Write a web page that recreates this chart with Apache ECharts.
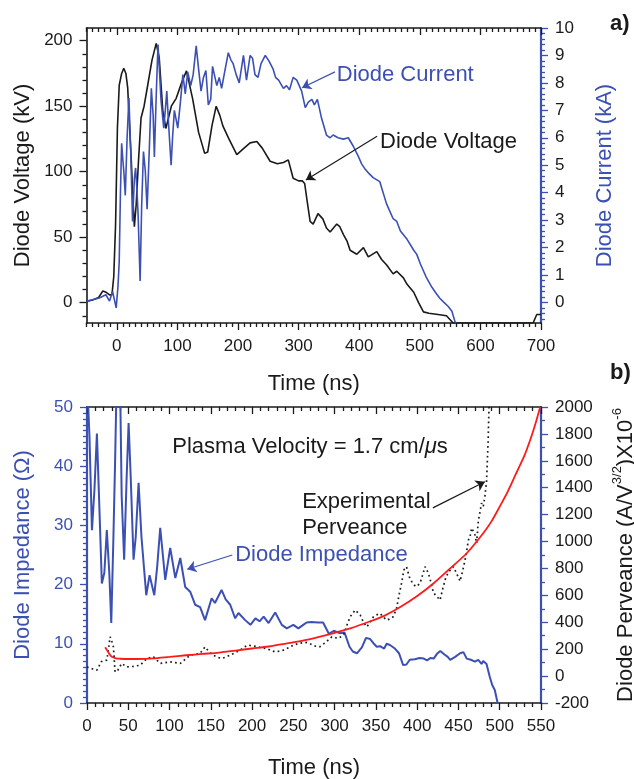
<!DOCTYPE html>
<html><head><meta charset="utf-8">
<script src="https://cdn.jsdelivr.net/npm/echarts@6/dist/echarts.min.js"></script>
<style>html,body{margin:0;padding:0;background:#fff}#c{width:634px;height:779px}</style>
</head><body><div id="c"></div>
<script>
// ---------- Panel a) : time (ns) vs diode voltage (kV) and current (kA)
const voltageA = [[-50,1],[-40,2],[-30,4],[-23,9],[-18,8],[-12,6],[-8,6],[-5,20],[-2,60],[1,133],[4,166],[8,175],[11.5,179],[15,175],[18,164],[21,135],[24,108],[26,85],[29,58],[32,75],[36,110],[40,141],[45,150],[51,166],[58,185],[65,198],[70,187],[76,146],[81,133],[90,150],[98,156],[107,168],[115,177],[125,156],[135,130],[145,114],[150,115],[157,135],[164,150],[170,143],[175,135],[185,125],[198,113],[210,118],[220,122],[231,123],[240,118],[253,108],[265,106],[275,107],[283,109],[291,95],[300,93],[306,93],[310,91],[314,78],[319,62],[324,60],[332,68],[340,64],[346,57],[352,54],[363,60],[368,58],[374,52],[380,47],[385,40],[396,37],[407,42],[415,35],[429,39],[437,33],[445,29],[456,22],[462,24],[473,19],[479,14],[490,8],[498,0],[506,-7],[515,-8],[530,-9],[544,-10],[555,-15.5],[600,-15.5],[650,-15.5],[687,-15.5],[693,-9],[700,-9]];
const currentA = [[-50,0.04],[-40,0.1],[-29,0.16],[-18,0.28],[-12,0.05],[-7,0.4],[-1,-0.2],[2,0.6],[4,1.5],[6,4.0],[8,5.8],[10,5.2],[11.5,4.8],[14,3.9],[17,6.0],[20,7.45],[23,5.5],[26,2.95],[29,4.5],[31,4.9],[33,4.2],[35,3.3],[38.5,0.78],[41,3.5],[44,5.5],[47,4.8],[50,3.4],[54,5.8],[57,7.8],[60,6.8],[62,5.3],[65,7.5],[68,9.4],[71,8.2],[73,7.35],[77.5,6.35],[80,7.0],[82.5,7.7],[86,6.3],[89.6,5.0],[92,6.0],[95,7.0],[100.6,6.35],[105,7.3],[109,8.3],[113,7.6],[117,8.4],[122,7.9],[126,8.3],[131,9.35],[135,8.5],[139,7.7],[143,8.2],[147,8.45],[151,7.2],[155,7.4],[158,8.6],[161,8.3],[165,7.9],[169,8.2],[173,7.8],[178,8.4],[184,9.1],[188,8.85],[192,8.7],[197,8.3],[202,8.0],[209,9.0],[214,8.1],[220,9.0],[224,8.9],[228,8.3],[233,8.2],[238,8.7],[245,9.0],[251,8.8],[258,8.5],[262,8.2],[267,8.1],[275,7.8],[280,7.9],[285,7.75],[291,8.2],[297,8.1],[305,7.7],[311,7.1],[316,7.3],[322,7.4],[326,7.2],[331,7.4],[338,6.7],[346,6.1],[352,6.0],[357,6.1],[365,6.0],[374,5.95],[382,6.0],[390,5.7],[399,5.3],[404,5.05],[410,4.85],[416,4.7],[423,4.55],[434,4.4],[445,3.6],[456,3.05],[462,2.95],[468,2.6],[479,2.3],[490,1.9],[495,1.75],[501,1.4],[511,0.9],[520,0.55],[528,0.3],[533,0.15],[539,0.02],[547,-0.15],[553,-0.32],[558,-0.7],[560,-0.75]];
const timeTicksA = [0,100,200,300,400,500,600,700];
const voltageTicksA = [0,50,100,150,200];
const currentTicksA = [0,1,2,3,4,5,6,7,8,9,10];

// ---------- Panel b) : time (ns) vs impedance (Ohm) and perveance
const impedanceB = [[0,55],[3,45],[6,29.2],[9,36],[12,45.5],[15,33],[18,20.2],[21,22],[24,29.2],[27,22],[29.4,13.5],[32,28],[34,40.5],[36,55],[40,55],[42,35],[45,24.2],[48,38],[50.4,47.3],[53,38],[56.4,24.2],[59,28],[62.5,37.2],[66,28],[71.8,18.2],[75.8,21.6],[81.5,18.2],[85,23],[88.7,29.6],[94.8,20.8],[100.8,26.2],[107,21.1],[113,24.5],[119,19.6],[125,18.8],[131,16.6],[137,16.2],[143,14.0],[151,17.7],[155,16.9],[163,19.1],[168,17.5],[173.5,16.6],[179.5,14.3],[183.5,15.2],[191.6,14.0],[198,13.2],[204,14.3],[209,13.8],[214,14.6],[220,13.5],[228,15.3],[236,13.2],[242,12.6],[250,13.2],[256,12.6],[262,13.2],[266,13.6],[272,13.7],[280,13.6],[286,13.6],[293,11.7],[299,12.2],[306,11.8],[312,11.9],[318,9.5],[322,8.7],[327,8.4],[333,9.4],[338,11.0],[343,10.8],[347,10.1],[351,9.5],[355,9.6],[360,9.2],[363,10.0],[367,9.8],[373,9.2],[378,8.4],[383,6.4],[387,6.5],[391,7.3],[397,7.4],[403,7.6],[408,7.5],[412,7.2],[416,7.6],[420,7.5],[424,8.3],[428,8.8],[433,8.2],[437,7.8],[440,7.3],[446,7.8],[452,8.4],[456,8.6],[460,7.5],[465,7.3],[470,7.0],[474,7.3],[478,6.6],[480,7.1],[482,6.8],[484,6.6],[486,6.8],[488,4.4],[491,3.0],[494,2.2],[497,0.3],[499,-1]];
const perveanceFitB = [[22,215],[24,195],[27,165],[30,143],[35,132],[40,129],[50,127],[60,127],[70,128],[80,131],[100,143],[120,155],[140,165],[160,175],[180,190],[200,205],[220,220],[240,240],[260,262],[280,290],[300,322],[320,357],[340,400],[360,448],[380,515],[400,595],[420,690],[440,801],[460,913],[480,1062],[490,1150],[500,1260],[510,1375],[520,1508],[530,1640],[537,1757],[543,1870],[549,2000]];
const perveanceExpB = [[0,68],[4,60],[8,50],[12,44],[15,80],[17,106],[20,115],[24,118],[26,200],[28,292],[30,260],[32,217],[34,31],[37,40],[42,94],[48,68],[56,72],[64.5,81],[72.6,131],[80.6,143],[88.7,94],[95,100],[100.8,106],[107,100],[113,94],[120,130],[125,156],[131,160],[137,168],[143,217],[148,180],[153,156],[158,140],[163,131],[168,140],[173.5,156],[180,175],[185.6,193],[190,215],[195.6,230],[205,220],[212,210],[218,205],[223,190],[228,180],[233,185],[238,193],[244,210],[250,230],[258,245],[266,250],[272,235],[277,222],[282,218],[289,250],[296.6,292],[304.6,280],[310.6,305],[315,380],[318.8,441],[325,491],[331,454],[335,400],[339,366],[343,400],[347,441],[351,455],[355,466],[359,440],[363,416],[367,425],[371,441],[375,503],[378,600],[381,690],[384,790],[387,813],[391,727],[395.5,680],[399,665],[403.5,690],[407,760],[409.6,813],[413.6,764],[417,690],[419.6,620],[424,590],[427.7,565],[431,650],[435,739],[439,780],[444,813],[448,760],[452,705],[455,780],[458,863],[460,930],[462,1010],[464,1036],[466,1100],[468,1111],[470,1050],[472,987],[474,1150],[476,1136],[478,1285],[480,1260],[482,1334],[484,1446],[485,1600],[486,1757],[487,2000],[488,2100]];
const timeTicksB = [0,50,100,150,200,250,300,350,400,450,500,550];
const impedanceTicksB = [0,10,20,30,40,50];
const perveanceTicksB = [-200,0,200,400,600,800,1000,1200,1400,1600,1800,2000];

// ---------- style helpers
const FONT = "'Liberation Sans', Arial, Helvetica, sans-serif";
const BLUE = '#3c50b4';
const BLACK = '#1a1a1a';
const TICK_FS = 17, TITLE_FS = 22;

function steps(a, b, step) { const r = []; const n = Math.round((b - a) / step); for (let i = 0; i <= n; i++) r.push(+(a + i * step).toFixed(4)); return r; }
function minors(a, b, step, majors) { return steps(a, b, step).filter(v => !majors.some(m => Math.abs(m - v) < 1e-6)); }

function axis(o) {
  const a = {
    type: 'value', gridIndex: o.gridIndex, position: o.position, min: o.min, max: o.max,
    splitLine: { show: false }, minorTick: { show: false },
    axisLine: { show: !!o.line, onZero: false, lineStyle: { color: o.color, width: o.lineWidth || 1.6 } },
    axisTick: { show: true, customValues: o.ticks, inside: !!o.inside, length: o.len, lineStyle: { color: o.color, width: 1.3 } },
    axisLabel: { show: !!o.labels, customValues: o.labels ? o.ticks : undefined, color: o.labelColor, fontSize: TICK_FS, fontFamily: FONT, margin: o.margin || 14,
                 formatter: function (v) { return String(v); } },
    nameMoveOverlap: false
  };
  if (o.name) {
    a.name = o.name; a.nameLocation = 'middle'; a.nameGap = o.nameGap;
    if (o.position === 'left' || o.position === 'right') a.nameRotate = 90;
    a.nameTextStyle = { color: o.nameColor, fontSize: TITLE_FS, fontFamily: FONT };
    if (o.nameRich) a.nameTextStyle.rich = o.nameRich;
  }
  return a;
}

const xMinA = -50, xMaxA = 700, vMin = -15.5, vMax = 209.7, iMin = -0.75, iMax = 10;
const xMinB = 0, xMaxB = 550, zMin = 0, zMax = 50, pMin = -200, pMax = 2000;

const xAxes = [
  axis({ gridIndex: 0, position: 'bottom', min: xMinA, max: xMaxA, ticks: timeTicksA, color: BLACK, labels: true, labelColor: BLACK, len: 7, line: true, margin: 15, name: 'Time (ns)', nameGap: 50, nameColor: BLACK }),
  axis({ gridIndex: 0, position: 'bottom', min: xMinA, max: xMaxA, ticks: minors(-50, 700, 10, timeTicksA), color: BLACK, len: 4 }),
  axis({ gridIndex: 0, position: 'top', min: xMinA, max: xMaxA, ticks: timeTicksA, color: BLACK, len: 7, inside: true, line: true }),
  axis({ gridIndex: 0, position: 'top', min: xMinA, max: xMaxA, ticks: minors(-50, 700, 10, timeTicksA), color: BLACK, len: 4, inside: true }),
  axis({ gridIndex: 1, position: 'bottom', min: xMinB, max: xMaxB, ticks: timeTicksB, color: BLACK, labels: true, labelColor: BLACK, len: 7, line: true, margin: 15, name: 'Time (ns)', nameGap: 54, nameColor: BLACK }),
  axis({ gridIndex: 1, position: 'bottom', min: xMinB, max: xMaxB, ticks: minors(0, 550, 10, timeTicksB), color: BLACK, len: 4 }),
  axis({ gridIndex: 1, position: 'top', min: xMinB, max: xMaxB, ticks: timeTicksB, color: BLACK, len: 7, inside: true, line: true }),
  axis({ gridIndex: 1, position: 'top', min: xMinB, max: xMaxB, ticks: minors(0, 550, 10, timeTicksB), color: BLACK, len: 4, inside: true })
];
const yAxes = [
  axis({ gridIndex: 0, position: 'left', min: vMin, max: vMax, ticks: voltageTicksA, color: BLACK, labels: true, labelColor: BLACK, len: 7, line: true, margin: 14, name: 'Diode Voltage (kV)', nameGap: 53, nameColor: BLACK }),
  axis({ gridIndex: 0, position: 'left', min: vMin, max: vMax, ticks: minors(-10, 200, 10, voltageTicksA), color: BLACK, len: 4 }),
  axis({ gridIndex: 0, position: 'right', min: iMin, max: iMax, ticks: currentTicksA, color: BLUE, labels: true, labelColor: BLACK, len: 7, line: true, lineWidth: 2.2, margin: 14, name: 'Diode Current (kA)', nameGap: 53, nameColor: BLUE }),
  axis({ gridIndex: 0, position: 'right', min: iMin, max: iMax, ticks: minors(-0.6, 10, 0.2, currentTicksA), color: BLUE, len: 4 }),
  axis({ gridIndex: 1, position: 'left', min: zMin, max: zMax, ticks: impedanceTicksB, color: BLUE, labels: true, labelColor: BLUE, len: 7, line: true, lineWidth: 2.2, margin: 14, name: 'Diode Impedance (Ω)', nameGap: 53, nameColor: BLUE }),
  axis({ gridIndex: 1, position: 'left', min: zMin, max: zMax, ticks: minors(0, 50, 1, impedanceTicksB), color: BLUE, len: 4 }),
  axis({ gridIndex: 1, position: 'right', min: pMin, max: pMax, ticks: perveanceTicksB, color: BLUE, labels: true, labelColor: BLACK, len: 7, line: true, lineWidth: 2.2, margin: 14,
         name: '{t|Diode Perveance (A/V}{s|3/2}{t|)X10}{s|-6}', nameGap: 70, nameColor: BLACK,
         nameRich: { t: { fontSize: TITLE_FS, fontFamily: FONT, color: BLACK, lineHeight: 26, verticalAlign: 'bottom' }, s: { fontSize: 13, fontFamily: FONT, color: BLACK, lineHeight: 26, verticalAlign: 'top' } } }),
  axis({ gridIndex: 1, position: 'right', min: pMin, max: pMax, ticks: minors(-200, 2000, 100, perveanceTicksB), color: BLUE, len: 4 })
];

function arrow(from, to, color) {
  return { silent: true, symbol: ['none', 'arrow'], symbolSize: 9, animation: false, label: { show: false },
    lineStyle: { color: color, width: 1.2, type: 'solid' }, data: [[{ coord: from }, { coord: to }]] };
}

const chart = echarts.init(document.getElementById('c'), null, { renderer: 'canvas' });
chart.setOption({
  animation: false,
  backgroundColor: '#fff',
  textStyle: { fontFamily: FONT },
  grid: [
    { left: 86.5, top: 28, width: 454.5, height: 295, outerBoundsMode: 'none' },
    { left: 87, top: 407, width: 454, height: 296, outerBoundsMode: 'none' }
  ],
  xAxis: xAxes,
  yAxis: yAxes,
  series: [
    { type: 'line', name: 'Diode Voltage', xAxisIndex: 0, yAxisIndex: 0, data: voltageA, showSymbol: false, clip: true,
      lineStyle: { color: BLACK, width: 1.6 }, markLine: arrow([429.5, 127], [312, 93.7], BLACK) },
    { type: 'line', name: 'Diode Current', xAxisIndex: 0, yAxisIndex: 2, data: currentA, showSymbol: false, clip: true,
      lineStyle: { color: BLUE, width: 1.6 }, markLine: arrow([360, 8.4], [305.7, 7.82], BLUE) },
    { type: 'line', name: 'Diode Impedance', xAxisIndex: 4, yAxisIndex: 4, data: impedanceB, showSymbol: false, clip: true,
      lineStyle: { color: BLUE, width: 2 }, markLine: arrow([176, 25], [121.4, 22.6], BLUE) },
    { type: 'line', name: 'Experimental Perveance', xAxisIndex: 4, yAxisIndex: 6, data: perveanceExpB, showSymbol: false, clip: true,
      lineStyle: { color: BLACK, width: 1.7, type: [1.7, 3.2] }, markLine: arrow([419, 1250], [482, 1444], BLACK) },
    { type: 'line', name: 'Fit', xAxisIndex: 4, yAxisIndex: 6, data: perveanceFitB, showSymbol: false, clip: true, smooth: 0.3,
      lineStyle: { color: '#ff1a1a', width: 1.8 } }
  ]
});

function px(xi, yi, pt) { return chart.convertToPixel({ xAxisIndex: xi, yAxisIndex: yi }, pt); }
function txt(p, text, color, extra) {
  return Object.assign({ type: 'text', x: p[0], y: p[1], silent: true,
    style: { text: text, fill: color, fontSize: TITLE_FS, fontFamily: FONT, align: 'left', verticalAlign: 'middle' } }, extra || {});
}
const g = [
  txt(px(0, 2, [363, 8.3]), 'Diode Current', BLUE),
  txt(px(0, 0, [434.4, 122.7]), 'Diode Voltage', BLACK),
  txt(px(4, 4, [103.3, 43.2]), '{n|Plasma Velocity = 1.7 cm/}{i|μ}{n|s}', BLACK),
  txt(px(4, 4, [260.7, 34]), 'Experimental', BLACK),
  txt(px(4, 4, [260.7, 29.6]), 'Perveance', BLACK),
  txt(px(4, 4, [179.5, 25]), 'Diode Impedance', BLUE),
  { type: 'text', x: 610, y: 24, silent: true, style: { text: 'a)', fill: BLACK, fontSize: 22, fontWeight: 'bold', fontFamily: FONT, verticalAlign: 'middle' } },
  { type: 'text', x: 610, y: 373, silent: true, style: { text: 'b)', fill: BLACK, fontSize: 22, fontWeight: 'bold', fontFamily: FONT, verticalAlign: 'middle' } }
];
g[2].style.rich = { n: { fontSize: TITLE_FS, fontFamily: FONT, fill: BLACK }, i: { fontSize: TITLE_FS, fontFamily: FONT, fontStyle: 'italic', fill: BLACK } };
chart.setOption({ graphic: g });
</script>
</body></html>
